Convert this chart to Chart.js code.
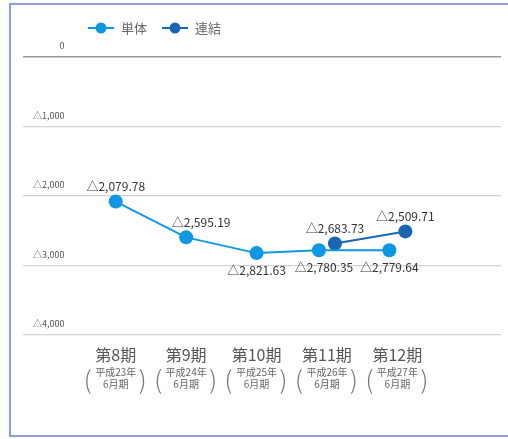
<!DOCTYPE html>
<html>
<head>
<meta charset="utf-8">
<script src="https://cdn.jsdelivr.net/npm/chart.js@4"></script>
<style>
html,body{margin:0;padding:0;background:#fff;}
#wrap{width:508px;height:439px;position:relative;}
</style>
</head>
<body>
<div id="wrap"><canvas id="c" width="508" height="439"></canvas></div>
<script>
// ---- data ----
const periods = ['第8期', '第9期', '第10期', '第11期', '第12期'];
const periodNotes = [
  ['平成23年', '6月期'],
  ['平成24年', '6月期'],
  ['平成25年', '6月期'],
  ['平成26年', '6月期'],
  ['平成27年', '6月期']
];
const seriesNames = ['単体', '連結'];
const singleValues = [-2079.78, -2595.19, -2821.63, -2780.35, -2779.64];
const consolidatedValues = [null, null, null, -2683.73, -2509.71];
const yTickValues = [0, -1000, -2000, -3000, -4000];

const FONT = "'Noto Sans CJK JP', 'Noto Sans', sans-serif";
const C_SINGLE = '#0e98e4';
const C_CONS = '#1866b4';

function fmtTick(v) {
  if (v === 0) return '0';
  return '△' + Math.abs(v).toLocaleString('en-US');
}
function fmtVal(v) {
  return '△' + Math.abs(v).toLocaleString('en-US', {minimumFractionDigits: 2, maximumFractionDigits: 2});
}

// frame around the chart
const framePlugin = {
  id: 'frame',
  beforeDraw(chart) {
    const ctx = chart.ctx;
    ctx.save();
    ctx.strokeStyle = '#8f9dd6';
    ctx.lineWidth = 2;
    ctx.beginPath();
    ctx.moveTo(510, 4); ctx.lineTo(10, 4); ctx.lineTo(10, 436); ctx.lineTo(510, 436);
    ctx.stroke();
    ctx.restore();
  }
};

// side-by-side shift where both series have a value
const shiftPlugin = {
  id: 'shift',
  afterDatasetsUpdate(chart) {
    const dsets = chart.data.datasets;
    dsets.forEach((ds, d) => {
      if (!ds.xShift) return;
      const meta = chart.getDatasetMeta(d);
      meta.data.forEach((pt, i) => {
        const both = dsets.every(o => o.data[i] && o.data[i].y !== null);
        if (both) pt.x += ds.xShift;
      });
    });
  }
};

// value labels
const labelPlugin = {
  id: 'vlabels',
  afterDatasetsDraw(chart) {
    const ctx = chart.ctx;
    ctx.save();
    ctx.font = '12px ' + FONT;
    ctx.fillStyle = '#333';
    ctx.textAlign = 'center';
    ctx.textBaseline = 'middle';
    chart.data.datasets.forEach((ds, d) => {
      const meta = chart.getDatasetMeta(d);
      meta.data.forEach((pt, i) => {
        const raw = ds.data[i];
        if (!raw || raw.y === null) return;
        const pos = ds.labelPos[i];
        const dx = ds.labelDx[i] || 0;
        const dy = pos === 'top' ? -15 : 17;
        ctx.fillText(fmtVal(raw.y), pt.x + dx, pt.y + dy);
      });
    });
    ctx.restore();
  }
};

// custom legend (line + circle marker)
const legendPlugin = {
  id: 'legendLine',
  afterDraw(chart) {
    const ctx = chart.ctx;
    ctx.save();
    ctx.font = '13px ' + FONT;
    ctx.textBaseline = 'middle';
    let x = 88;
    const y = 28;
    chart.data.datasets.forEach(ds => {
      ctx.strokeStyle = ds.borderColor;
      ctx.lineWidth = 2;
      ctx.beginPath(); ctx.moveTo(x, y); ctx.lineTo(x + 26, y); ctx.stroke();
      ctx.fillStyle = ds.borderColor;
      ctx.beginPath(); ctx.arc(x + 13, y, 5.5, 0, Math.PI * 2); ctx.fill();
      ctx.fillStyle = '#666';
      ctx.textAlign = 'left';
      ctx.fillText(ds.label, x + 33, y);
      x += 33 + ctx.measureText(ds.label).width + 15;
    });
    ctx.restore();
  }
};

// tall brackets around the period notes
const bracketPlugin = {
  id: 'brackets',
  afterDraw(chart) {
    const s = chart.scales.x2;
    const ctx = chart.ctx;
    ctx.save();
    ctx.fillStyle = '#777';
    ctx.textAlign = 'center';
    ctx.textBaseline = 'middle';
    ctx.font = '300 25px ' + FONT;
    const yMid = 379;
    periods.forEach((p, i) => {
      const px = s.getPixelForValue(i);
      ctx.fillText('(', px - 28, yMid);
      ctx.fillText(')', px + 27, yMid);
    });
    ctx.restore();
  }
};

const toPts = arr => arr.map((v, i) => ({x: i, y: v}));

new Chart(document.getElementById('c'), {
  type: 'line',
  data: {
    datasets: [
      {
        label: seriesNames[0],
        data: toPts(singleValues),
        borderColor: C_SINGLE,
        backgroundColor: C_SINGLE,
        pointBackgroundColor: C_SINGLE,
        pointBorderColor: C_SINGLE,
        pointRadius: 7,
        pointBorderWidth: 0,
        borderWidth: 2,
        tension: 0,
        xShift: -8,
        labelPos: ['top', 'top', 'bottom', 'bottom', 'bottom'],
        labelDx: [0, 15, 0, 5, 0]
      },
      {
        label: seriesNames[1],
        data: toPts(consolidatedValues),
        borderColor: C_CONS,
        backgroundColor: C_CONS,
        pointBackgroundColor: C_CONS,
        pointBorderColor: C_CONS,
        pointRadius: 7,
        pointBorderWidth: 0,
        borderWidth: 2,
        tension: 0,
        xShift: 8,
        labelPos: ['top', 'top', 'top', 'top', 'top'],
        labelDx: [0, 0, 0, 0, 0]
      }
    ]
  },
  options: {
    responsive: false,
    animation: false,
    events: [],
    layout: {padding: {left: 23, right: 3, top: 57, bottom: 50}},
    plugins: {legend: {display: false}, tooltip: {enabled: false}},
    scales: {
      y: {
        type: 'linear',
        min: -4000,
        max: 0,
        afterBuildTicks: s => { s.ticks = yTickValues.map(v => ({value: v})); },
        afterFit: s => { s.width = 0; },
        border: {display: false},
        grid: {
          drawTicks: false,
          color: c => (c.tick && c.tick.value === 0) ? '#9a9a9a' : '#d2d2d2',
          lineWidth: c => (c.tick && c.tick.value === 0) ? 1.5 : 1.2
        },
        ticks: {
          mirror: true,
          crossAlign: 'far',
          padding: 10,
          labelOffset: -11,
          color: '#555',
          font: {family: FONT, size: 9},
          callback: v => fmtTick(v)
        }
      },
      x: {
        type: 'linear',
        position: 'bottom',
        min: -1.317,
        max: 5.472,
        afterBuildTicks: s => { s.ticks = periods.map((_, i) => ({value: i})); },
        afterFit: s => { s.height = 28; },
        border: {display: false},
        grid: {display: false, drawTicks: false},
        ticks: {
          padding: 10,
          maxRotation: 0,
          autoSkip: false,
          color: '#555',
          font: {family: FONT, size: 16},
          callback: v => periods[v]
        }
      },
      x2: {
        type: 'linear',
        position: 'bottom',
        min: -1.317,
        max: 5.472,
        afterBuildTicks: s => { s.ticks = periods.map((_, i) => ({value: i})); },
        afterFit: s => { s.height = 26; },
        border: {display: false},
        grid: {display: false, drawTicks: false},
        ticks: {
          padding: 4,
          maxRotation: 0,
          autoSkip: false,
          color: '#666',
          font: {family: FONT, size: 10, lineHeight: 1.12},
          callback: v => periodNotes[v]
        }
      }
    }
  },
  plugins: [framePlugin, shiftPlugin, labelPlugin, legendPlugin, bracketPlugin]
});
</script>
</body>
</html>
